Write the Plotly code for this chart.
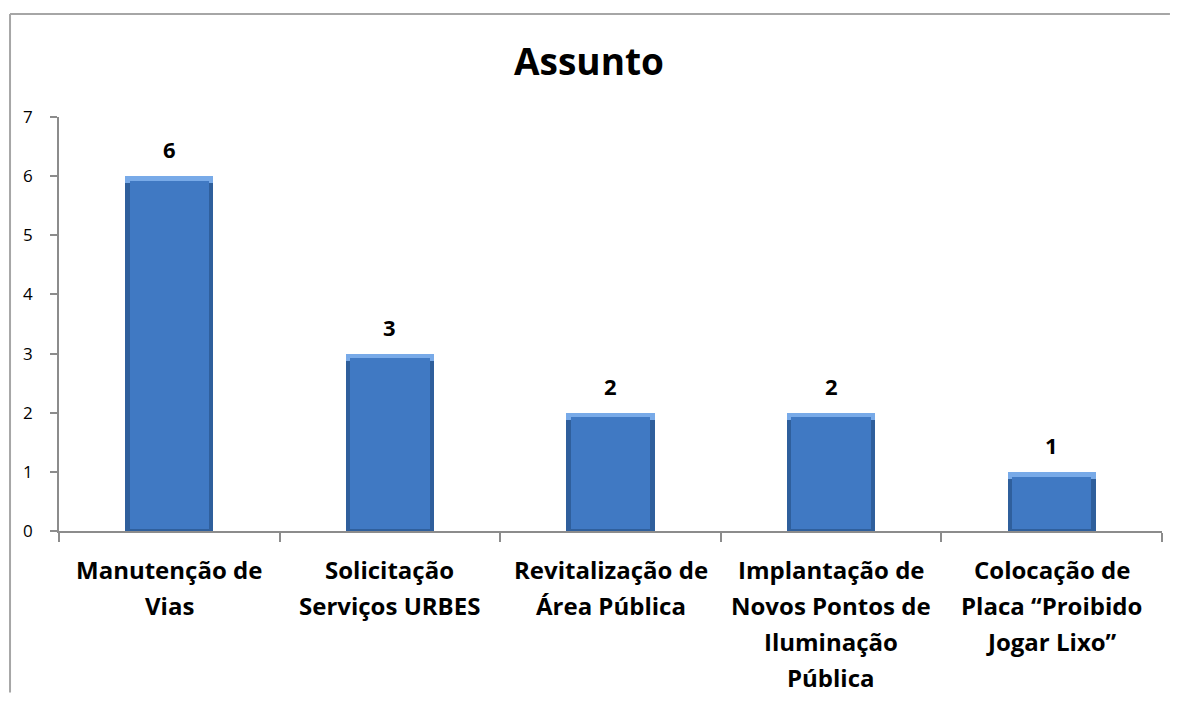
import plotly.graph_objects as go

categories = [
    "Manutenção de<br>Vias",
    "Solicitação<br>Serviços URBES",
    "Revitalização de<br>Área Pública",
    "Implantação de<br>Novos Pontos de<br>Iluminação<br>Pública",
    "Colocação de<br>Placa “Proibido<br>Jogar Lixo”",
]
values = [6, 3, 2, 2, 1]
y_ticks = [0, 1, 2, 3, 4, 5, 6, 7]
title_text = "Assunto"

FONT = "Open Sans"
bevel = 0.12
xs = list(range(len(categories)))

fig = go.Figure()
# dark body
fig.add_trace(go.Bar(x=xs, y=values, width=0.4, marker=dict(color="#2f5f9c", line=dict(width=0)),
                     hoverinfo="skip"))
# light top bevel
fig.add_trace(go.Bar(x=xs, y=[bevel] * len(values), base=[v - bevel for v in values], width=0.4,
                     marker=dict(color="#78aae8", line=dict(width=0)), hoverinfo="skip"))
# inner face
fig.add_trace(go.Bar(x=xs, y=[v - bevel for v in values], base=[0.04] * len(values), width=0.36,
                     marker=dict(color="#4079c3", line=dict(width=0)), hoverinfo="skip"))

annotations = []
for i, v in enumerate(values):
    annotations.append(dict(x=i, y=v, text=f"<b>{v}</b>", showarrow=False, yanchor="middle",
                            yshift=27, font=dict(family=FONT, size=22, color="black")))
for i, lab in enumerate(categories):
    for j, line in enumerate(lab.split("<br>")):
        annotations.append(dict(x=i, y=0, text=f"<b>{line}</b>", showarrow=False, yanchor="middle",
                                yshift=-(38 + 36 * j), font=dict(family=FONT, size=24, color="black")))

fig.update_layout(
    width=1162, height=686,
    barmode="overlay",
    bargap=0,
    showlegend=False,
    plot_bgcolor="white",
    paper_bgcolor="white",
    margin=dict(l=51, r=8, t=109, b=163),
    title=dict(text=f"<b>{title_text}</b>", x=0.5, xanchor="center", y=1 - 54 / 686, yanchor="middle",
               font=dict(family=FONT, size=37, color="black")),
    annotations=annotations,
    shapes=[
        dict(type="line", xref="paper", yref="paper", x0=-0.0444, x1=1.0072, y0=1.2488, y1=1.2488,
             line=dict(color="#a6a6a6", width=2), layer="below"),
        dict(type="line", xref="paper", yref="paper", x0=-0.0444, x1=-0.0444, y0=-0.39, y1=1.2488,
             line=dict(color="#a6a6a6", width=2), layer="below"),
    ],
)
fig.update_xaxes(range=[-0.5, len(categories) - 0.5], showticklabels=False, showgrid=False,
                 zeroline=False, showline=True, linecolor="#8c8c8c", linewidth=1.5,
                 tickvals=[i - 0.5 for i in range(len(categories) + 1)], ticks="outside",
                 ticklen=9, tickcolor="#8c8c8c", tickwidth=1.5)
fig.update_yaxes(range=[0, 7], tickvals=y_ticks, showgrid=False, zeroline=False, showline=True,
                 linecolor="#8c8c8c", linewidth=1.5, ticks="outside", ticklen=7, tickcolor="#8c8c8c",
                 tickwidth=1.5, ticklabelstandoff=14,
                 tickfont=dict(family=FONT, size=17, color="black"))

fig.write_html("out.html", config={"displayModeBar": False})
